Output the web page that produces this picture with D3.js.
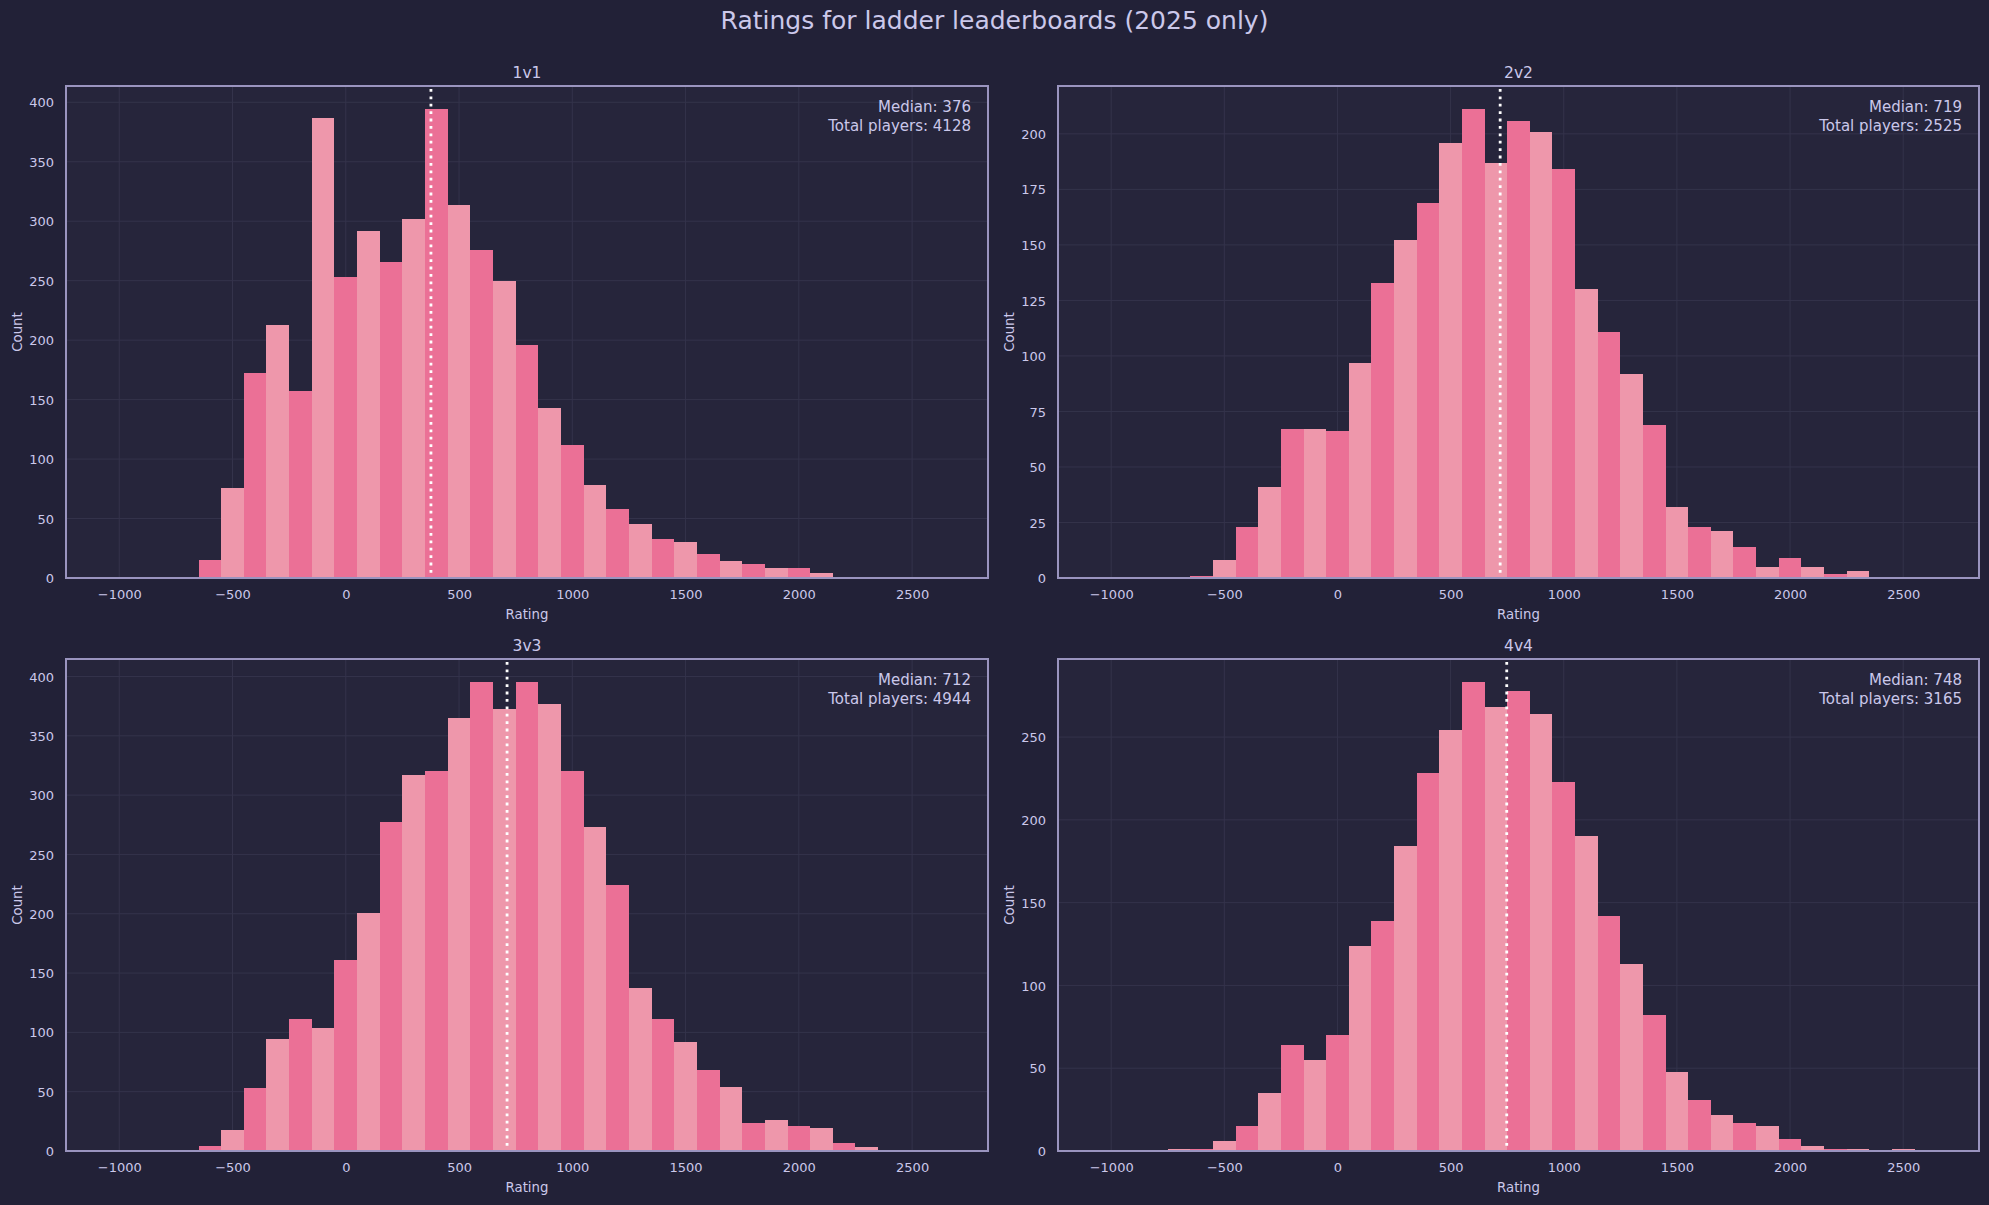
<!DOCTYPE html>
<html>
<head>
<meta charset="utf-8">
<script src="https://cdn.jsdelivr.net/npm/d3@7"></script>
<style>
  body { margin: 0; background: #222137; overflow: hidden; }
  svg { display: block; font-family: "DejaVu Sans", sans-serif; }
</style>
</head>
<body>
<svg id="chart"></svg>
<script>
// bin centres (bins are 100 wide)
const binCenters = [-700, -600, -500, -400, -300, -200, -100, 0, 100, 200, 300, 400, 500,
  600, 700, 800, 900, 1000, 1100, 1200, 1300, 1400, 1500, 1600, 1700, 1800, 1900,
  2000, 2100, 2200, 2300, 2400, 2500]

const counts1v1 = [0, 15, 76, 172, 213, 157, 387, 253, 292, 266, 302, 394, 314, 276, 250, 196,
  143, 112, 78, 58, 45, 33, 30, 20, 14, 12, 8, 8, 4, 0, 0, 0, 0]
const counts2v2 = [0, 1, 8, 23, 41, 67, 67, 66, 97, 133, 152, 169, 196, 211, 187, 206,
  201, 184, 130, 111, 92, 69, 32, 23, 21, 14, 5, 9, 5, 2, 3, 0, 0]
const counts3v3 = [0, 4, 18, 53, 94, 111, 104, 161, 201, 277, 317, 320, 365, 395, 373, 395,
  377, 320, 273, 224, 137, 111, 92, 68, 54, 24, 26, 21, 19, 7, 3, 0, 0]
const counts4v4 = [1, 1, 6, 15, 35, 64, 55, 70, 124, 139, 184, 228, 254, 283, 268, 278,
  264, 223, 190, 142, 113, 82, 48, 31, 22, 17, 15, 7, 3, 1, 1, 0, 1]

const modes = ['1v1', '2v2', '3v3', '4v4']
const medians = [376, 719, 712, 748]
const totals = [4128, 2525, 4944, 3165]

const xTicks = [-1000, -500, 0, 500, 1000, 1500, 2000, 2500]
const yTicks1v1 = [0, 50, 100, 150, 200, 250, 300, 350, 400]
const yTicks2v2 = [0, 25, 50, 75, 100, 125, 150, 175, 200]
const yTicks3v3 = [0, 50, 100, 150, 200, 250, 300, 350, 400]
const yTicks4v4 = [0, 50, 100, 150, 200, 250]

const width = 1989
const height = 1205
const binWidth = 100
const xDomain = [-1235, 2835]

const colors = {
    fig: '#222137',
    axes: '#26253b',
    grid: '#34334b',
    spine: '#9a94bf',
    text: '#cbc8ea',
    dark: '#eb7096',
    light: '#ee97ab'
}

const panels = [
    { mode: modes[0], counts: counts1v1, yTicks: yTicks1v1, median: medians[0], total: totals[0], left: 66, top: 86, w: 922 },
    { mode: modes[1], counts: counts2v2, yTicks: yTicks2v2, median: medians[1], total: totals[1], left: 1058, top: 86, w: 921 },
    { mode: modes[2], counts: counts3v3, yTicks: yTicks3v3, median: medians[2], total: totals[2], left: 66, top: 659, w: 922 },
    { mode: modes[3], counts: counts4v4, yTicks: yTicks4v4, median: medians[3], total: totals[3], left: 1058, top: 659, w: 921 }
]
const innerHeight = 492
const fmt = d3.format('d')

const svg = d3.select('#chart')
    .attr('width', width)
    .attr('height', height)

svg.append('rect')
    .attr('width', width)
    .attr('height', height)
    .attr('fill', colors.fig)

svg.append('text')
    .attr('x', width / 2)
    .attr('y', 29)
    .attr('text-anchor', 'middle')
    .attr('fill', colors.text)
    .attr('font-size', 25)
    .text('Ratings for ladder leaderboards (2025 only)')

panels.forEach(p => {
    const data = binCenters.map((c, i) => ({ center: c, count: p.counts[i] }))

    const xScale = d3.scaleLinear()
        .domain(xDomain)
        .range([0, p.w])
    const yScale = d3.scaleLinear()
        .domain([0, d3.max(p.counts) * 1.05])
        .range([innerHeight, 0])

    const g = svg.append('g')
        .attr('transform', `translate(${p.left},${p.top})`)

    g.append('rect')
        .attr('width', p.w)
        .attr('height', innerHeight)
        .attr('fill', colors.axes)

    // grid
    g.selectAll('.vgrid')
        .data(xTicks)
        .enter()
        .append('line')
        .attr('x1', d => xScale(d))
        .attr('x2', d => xScale(d))
        .attr('y1', 0)
        .attr('y2', innerHeight)
        .attr('stroke', colors.grid)
        .attr('stroke-width', 1)
    g.selectAll('.hgrid')
        .data(p.yTicks)
        .enter()
        .append('line')
        .attr('x1', 0)
        .attr('x2', p.w)
        .attr('y1', d => yScale(d))
        .attr('y2', d => yScale(d))
        .attr('stroke', colors.grid)
        .attr('stroke-width', 1)

    // bars
    g.selectAll('.bar')
        .data(data.filter(d => d.count > 0))
        .enter()
        .append('rect')
        .classed('bar', true)
        .attr('x', d => xScale(d.center - binWidth / 2))
        .attr('width', d => xScale(d.center + binWidth / 2) - xScale(d.center - binWidth / 2))
        .attr('y', d => yScale(d.count))
        .attr('height', d => innerHeight - yScale(d.count))
        .attr('fill', d => (Math.round(d.center / binWidth) % 2 === 0) ? colors.dark : colors.light)
        .attr('shape-rendering', 'crispEdges')

    // median line
    g.append('line')
        .attr('x1', xScale(p.median))
        .attr('x2', xScale(p.median))
        .attr('y1', 0)
        .attr('y2', innerHeight)
        .attr('stroke', '#ffffff')
        .attr('stroke-width', 2.8)
        .attr('stroke-dasharray', '2.8,4.6')
        .attr('stroke-dashoffset', -3)

    g.append('rect')
        .attr('width', p.w)
        .attr('height', innerHeight)
        .attr('fill', 'none')
        .attr('stroke', colors.spine)
        .attr('stroke-width', 2)

    // axes
    const xAxis = d3.axisBottom(xScale)
        .tickValues(xTicks)
        .tickFormat(fmt)
        .tickSize(0)
    const gx = g.append('g')
        .attr('transform', `translate(0,${innerHeight})`)
        .call(xAxis)
    const yAxis = d3.axisLeft(yScale)
        .tickValues(p.yTicks)
        .tickFormat(fmt)
        .tickSize(0)
    const gy = g.append('g')
        .call(yAxis)

    ;[gx, gy].forEach(a => {
        a.attr('font-size', 13)
            .attr('font-family', '"DejaVu Sans", sans-serif')
        a.select('.domain').remove()
        a.selectAll('.tick line').remove()
        a.selectAll('text')
            .attr('fill', colors.text)
            .attr('dy', null)
    })
    gx.selectAll('text')
        .attr('text-anchor', 'middle')
        .attr('x', 0)
        .attr('y', 21)
    gy.selectAll('text')
        .attr('text-anchor', 'end')
        .attr('x', -12)
        .attr('y', 4.6)

    // labels
    g.append('text')
        .attr('x', p.w / 2)
        .attr('y', -8)
        .attr('text-anchor', 'middle')
        .attr('fill', colors.text)
        .attr('font-size', 15.5)
        .text(p.mode)

    g.append('text')
        .attr('x', p.w / 2)
        .attr('y', innerHeight + 41)
        .attr('text-anchor', 'middle')
        .attr('fill', colors.text)
        .attr('font-size', 13.3)
        .text('Rating')

    g.append('text')
        .attr('transform', `translate(-44,${innerHeight / 2}) rotate(-90)`)
        .attr('text-anchor', 'middle')
        .attr('fill', colors.text)
        .attr('font-size', 13.3)
        .text('Count')

    const info = g.append('text')
        .attr('text-anchor', 'end')
        .attr('fill', colors.text)
        .attr('font-size', 15)
    info.append('tspan')
        .attr('x', p.w - 17)
        .attr('y', 26)
        .text(`Median: ${p.median}`)
    info.append('tspan')
        .attr('x', p.w - 17)
        .attr('y', 44.7)
        .text(`Total players: ${p.total}`)
})
</script>
</body>
</html>
